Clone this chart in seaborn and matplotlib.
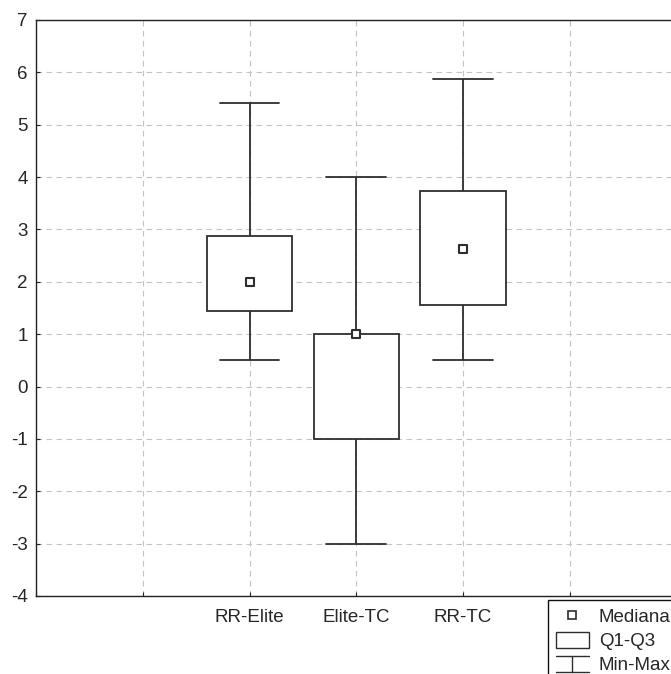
import numpy as np
import pandas as pd
import seaborn as sns
import matplotlib
import matplotlib.pyplot as plt
from matplotlib.lines import Line2D
from matplotlib.patches import Rectangle
from matplotlib.legend_handler import HandlerBase

# summary values
groups = ["RR-Elite", "Elite-TC", "RR-TC"]
mins = [0.5, -3.0, 0.5]
q1s = [1.45, -1.0, 1.55]
medians = [2.0, 1.0, 2.63]
q3s = [2.87, 1.0, 3.74]
maxs = [5.41, 4.01, 5.87]

# empty slots on each side of the three groups
order = ["_p0", "_p1"] + groups + ["_p2", "_p3"]
ticklabels = ["", ""] + groups + ["", ""]

# five points per group -> quartiles land exactly on the summary values
rows = []
for g, a, b, c, d, e in zip(groups, mins, q1s, medians, q3s, maxs):
    for v in (a, b, c, d, e):
        rows.append({"grupo": g, "valor": v})
df = pd.DataFrame(rows)

sns.set_style("ticks")
plt.rcParams["font.family"] = ["Liberation Sans", "DejaVu Sans"]
plt.rcParams["axes.unicode_minus"] = False

lc = "#2e2e2e"
fig = plt.figure(figsize=(6.71, 6.74), dpi=100)
ax = fig.add_axes([36 / 671, 78 / 674, 640.5 / 671, 576 / 674])

sns.boxplot(data=df, x="grupo", y="valor", order=order, whis=(0, 100),
            width=0.8, color="white", linecolor=lc, linewidth=1.3,
            fill=True, capwidths=0.56,
            medianprops={"visible": False}, ax=ax)
sns.stripplot(x=groups, y=medians, order=order, jitter=False, marker="s",
              size=6.2, color="white", edgecolor=lc, linewidth=1.5,
              zorder=5, ax=ax)

ax.set_xlim(0, 6)
ax.set_ylim(-4, 7)
ax.set_yticks(range(-4, 8))
ax.set_xticks(range(7))
ax.set_xticklabels(ticklabels)
ax.set_xlabel("")
ax.set_ylabel("")
ax.grid(True, axis="both", linestyle=(0, (5, 4)), color="#c4c4c4", linewidth=0.8)
ax.set_axisbelow(True)
ax.tick_params(axis="both", labelsize=13.5, length=3, direction="in", color="#222222")
ax.tick_params(axis="x", pad=9)
ax.tick_params(axis="y", pad=6)
for side in ["left", "bottom", "top", "right"]:
    ax.spines[side].set_visible(True)
    ax.spines[side].set_color("#222222")
    ax.spines[side].set_linewidth(1.0)


class HandlerMinMax(HandlerBase):
    def create_artists(self, legend, orig_handle, xdescent, ydescent,
                       width, height, fontsize, trans):
        x0, x1 = -xdescent, -xdescent + width
        y0, y1 = -ydescent, -ydescent + height
        xm = (x0 + x1) / 2
        parts = [Line2D([x0, x1], [y1, y1]), Line2D([xm, xm], [y0, y1]),
                 Line2D([x0, x1], [y0, y0])]
        for p in parts:
            p.set_color(lc)
            p.set_linewidth(1.0)
            p.set_transform(trans)
        return parts


h_med = Line2D([], [], marker="s", linestyle="none", markerfacecolor="white",
               markeredgecolor=lc, markeredgewidth=1.2, markersize=5.5)
h_box = Rectangle((0, 0), 1, 1, facecolor="white", edgecolor=lc, linewidth=1.0)
h_mm = Line2D([], [])
leg = fig.legend([h_med, h_box, h_mm], ["Mediana", "Q1-Q3", "Min-Max"],
                 handler_map={h_mm: HandlerMinMax()},
                 loc="upper left", bbox_to_anchor=(548 / 671, 1 - 600 / 674),
                 borderaxespad=0, fontsize=13.5, frameon=True, fancybox=False,
                 edgecolor="#111111", framealpha=1, handlelength=1.8,
                 handleheight=1.0, handletextpad=0.5, labelspacing=0.28,
                 borderpad=0.4)
leg.get_frame().set_linewidth(1.0)

fig.savefig("out.png", dpi=100)
